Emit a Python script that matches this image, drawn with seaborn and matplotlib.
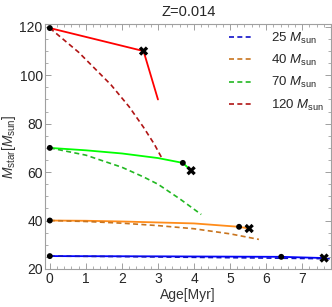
import numpy as np
import pandas as pd
import matplotlib
matplotlib.use("Agg")
import matplotlib.pyplot as plt
import seaborn as sns
from matplotlib.ticker import MultipleLocator

# values (Age in Myr, mass in Msun)
masses = ["25", "40", "70", "120"]

# dashed tracks
dash_age_120 = [0.0, 0.8, 1.7, 2.2, 2.6, 2.9, 3.1]
dash_m_120 = [119.5, 109.5, 96.0, 87.0, 78.5, 71.5, 66.0]
dash_age_70 = [0.0, 1.0, 2.0, 2.6, 3.0, 3.6, 4.2]
dash_m_70 = [70.0, 67.0, 62.0, 58.0, 55.0, 49.0, 42.5]
dash_age_40 = [0.0, 1.0, 2.0, 3.0, 4.0, 5.0, 5.8]
dash_m_40 = [40.0, 39.6, 38.9, 37.9, 36.6, 34.5, 32.2]
dash_age_25 = [0.0, 2.0, 4.0, 6.0, 7.85]
dash_m_25 = [25.3, 25.1, 24.8, 24.5, 24.2]

# solid tracks
solid_age_120 = [0.0, 2.6, 3.0]
solid_m_120 = [119.5, 110.0, 90.0]
solid_age_70 = [0.0, 1.0, 2.0, 3.0, 3.69, 3.92]
solid_m_70 = [70.0, 69.0, 67.7, 65.8, 63.8, 60.6]
solid_age_40 = [0.0, 1.0, 2.0, 3.0, 4.0, 5.25, 5.53]
solid_m_40 = [40.0, 39.9, 39.6, 39.2, 38.8, 37.4, 36.7]
solid_age_25 = [0.0, 3.0, 6.42, 7.61]
solid_m_25 = [25.3, 25.2, 25.0, 24.5]

# markers
dot_age = [0.0, 0.0, 0.0, 0.0, 3.69, 5.25, 6.42]
dot_m = [119.5, 70.0, 40.0, 25.3, 63.8, 37.4, 25.0]
cross_age = [2.6, 3.92, 5.53, 7.61]
cross_m = [110.0, 60.6, 36.7, 24.5]

solid_colors = {"25": "#0000ff", "40": "#ff8c1a", "70": "#00ff00", "120": "#ff0000"}
dash_colors = {"25": "#1010c8", "40": "#c8741e", "70": "#22b822", "120": "#b01414"}

solid = {"25": (solid_age_25, solid_m_25), "40": (solid_age_40, solid_m_40),
         "70": (solid_age_70, solid_m_70), "120": (solid_age_120, solid_m_120)}
dashed = {"25": (dash_age_25, dash_m_25), "40": (dash_age_40, dash_m_40),
          "70": (dash_age_70, dash_m_70), "120": (dash_age_120, dash_m_120)}

sns.set_style("ticks")
plt.rcParams["font.family"] = ["Liberation Sans", "DejaVu Sans"]
plt.rcParams["mathtext.fontset"] = "custom"
plt.rcParams["mathtext.rm"] = "Liberation Sans"
plt.rcParams["mathtext.it"] = "Liberation Sans:italic"

fig = plt.figure(figsize=(3.32, 3.07), dpi=100)
ax = fig.add_axes([0.137, 0.124, 0.86, 0.798])

for m in masses:
    a, v = solid[m]
    sns.lineplot(x=a, y=v, ax=ax, color=solid_colors[m], lw=1.3, sort=False,
                 estimator=None)
for m in masses:
    a, v = dashed[m]
    sns.lineplot(x=a, y=v, ax=ax, color=dash_colors[m], lw=1.2, sort=False,
                 estimator=None, linestyle=(0, (3, 2)),
                 label=m + r" $M_{\rm sun}$")

sns.scatterplot(x=dot_age, y=dot_m, ax=ax, color="black", s=18, zorder=5,
                edgecolor="none")
sns.scatterplot(x=cross_age, y=cross_m, ax=ax, color="black", s=45, marker="X",
                zorder=6, edgecolor="none")

ax.set_xlim(-0.12, 7.8)
ax.set_ylim(20, 121.2)
ax.xaxis.set_major_locator(MultipleLocator(1))
ax.xaxis.set_minor_locator(MultipleLocator(0.2))
ax.yaxis.set_major_locator(MultipleLocator(20))
ax.yaxis.set_minor_locator(MultipleLocator(5))
ax.tick_params(which="both", direction="in", top=True, right=True,
               color="#a0a0a0", labelsize=10, pad=2)
ax.tick_params(which="major", length=4, width=0.7)
ax.tick_params(which="minor", length=2, width=0.6)
for s in ax.spines.values():
    s.set_color("#a0a0a0")
    s.set_linewidth(0.8)

ax.set_xlabel("Age[Myr]", fontsize=10, color="#333333", labelpad=2)
ax.set_ylabel(r"$M_{\rm star}[M_{\rm sun}]$", fontsize=10, color="#333333",
              labelpad=1)
ax.set_title("Z=0.014", fontsize=10.5, pad=6)

leg = ax.legend(loc="upper right", frameon=False, fontsize=9.5,
                handlelength=1.9, labelspacing=0.55, borderaxespad=0.1,
                handletextpad=1.3)

fig.savefig("out.png", dpi=100)
